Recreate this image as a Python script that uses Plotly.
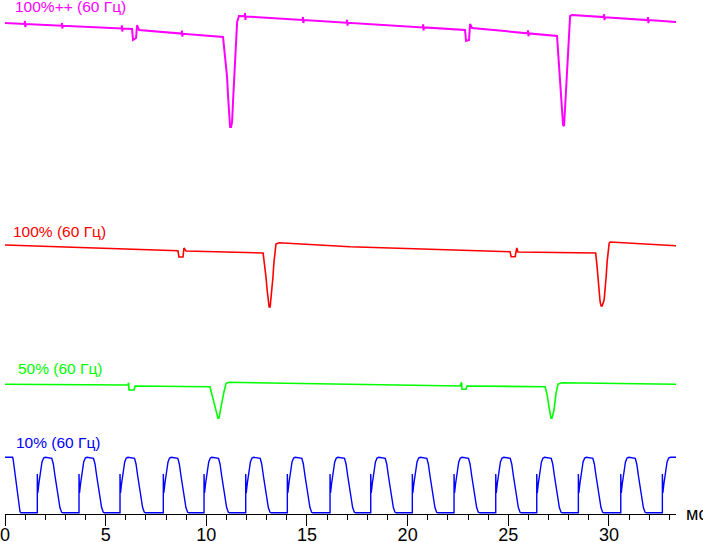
import plotly.graph_objects as go

# ---------------- data (time in ms, brightness in arbitrary units) ----------------
# 100%++ (60 Гц) – magenta (incl. the short noise bursts seen on the trace)
mag_t = [0.00,
         0.97, 0.99, 1.01, 1.03, 2.81, 2.83, 2.85, 2.87, 5.79, 5.81, 5.83, 5.85,
         6.31, 6.36, 6.51, 6.56, 6.66,
         8.77, 8.79, 8.81, 8.83,
         10.83, 10.93, 11.03, 11.08, 11.13, 11.18, 11.23, 11.28, 11.33, 11.38, 11.43,
         11.48, 11.53, 11.62,
         11.90, 11.92, 11.94, 11.96, 14.78, 14.80, 14.82, 14.84,
         16.97, 16.99, 17.01, 17.03, 20.75, 20.77, 20.79, 20.81,
         22.85, 22.90, 23.05, 23.10, 23.20,
         25.96, 25.98, 26.00, 26.02,
         27.42, 27.47, 27.52, 27.62, 27.67, 27.72, 27.77, 27.82, 27.87, 27.92, 28.02,
         28.07, 28.17,
         29.74, 29.76, 29.78, 29.80, 31.92, 31.94, 31.96, 31.98,
         33.33]
mag_v = [117,
         116.1, 119, 113, 116, 114.3, 117, 111.5, 114.3, 111.5, 114.5, 108.5, 111.4,
         111, 100, 102, 115, 110,
         106.4, 109.4, 103.4, 106.3,
         103, 83, 63, 44, 25, 13, 13, 18, 40, 60, 78,
         103, 118, 124,
         123.7, 127, 120, 123.5, 120.1, 123, 117, 120,
         117.3, 120.3, 114.3, 117.2, 112.6, 115.6, 109.6, 112.6,
         110, 99, 100, 116, 112,
         106.7, 109.7, 103.7, 106.6,
         104, 90, 70, 50, 30, 15, 14, 32, 55, 80, 105,
         124, 125,
         122.9, 125.8, 119.8, 122.8, 119.9, 122.9, 116.9, 119.9,
         118]

# 100% (60 Гц) – red
red_t = [0.00, 8.59, 8.64, 8.84, 8.89, 8.99, 12.82, 12.92, 12.97, 13.02, 13.07, 13.12, 13.17,
         13.21, 13.26, 13.31, 13.36, 13.41, 13.46, 13.61, 17.14, 25.09, 25.14, 25.34, 25.42,
         25.48, 29.34, 29.41, 29.46, 29.51, 29.56, 29.61, 29.66, 29.76, 29.81, 29.86, 29.91,
         29.96, 30.01, 30.06, 33.33]
red_v = [75, 69.3, 63, 63, 72, 69, 67, 53, 42, 30, 18, 13, 13,
         20, 30, 43, 58, 70, 76, 77.3, 73.3, 68.3, 63.3, 63.3, 72,
         68, 67, 53.3, 40, 28.3, 18.3, 14, 14, 20, 30, 43.3, 58.3,
         70, 76.7, 78, 74.3]

# 50% (60 Гц) – green
grn_t = [0.00, 6.11, 6.14, 6.16, 6.41, 6.46, 10.18, 10.28, 10.38, 10.48, 10.58, 10.63, 10.68,
         10.78, 10.88, 10.98, 11.13, 17.14, 22.60, 22.68, 22.70, 22.90, 22.95, 26.83, 26.93,
         27.02, 27.12, 27.17, 27.27, 27.37, 27.47, 27.67, 33.33]
grn_v = [45.7, 45, 47.3, 40, 40, 44, 43.3, 35, 27, 18.3, 11.7, 11.7, 18.3,
         28.3, 38.3, 46.7, 47.7, 45.7, 44, 47.7, 40.7, 40.7, 44, 43.3, 35,
         23.3, 11.7, 11.7, 20, 36.7, 46, 47.3, 45.7]

# 10% (60 Гц) – blue: start segment, PWM rising-edge times, and one pulse profile
blu_start_t = [0.00, 0.38, 0.41, 0.50, 0.58, 0.66, 0.745, 0.795]
blu_start_v = [56.7, 56.7, 54, 39, 24, 11, 2.3, 1.3]
blu_edges = [1.605, 3.676, 5.713, 7.864, 9.886, 11.957, 14.024, 16.145,
             18.167, 20.233, 22.305, 24.376, 26.413, 28.480, 30.586, 32.653]
pulse_dt = [0.0, 0.0, 0.025, 0.075, 0.164, 0.233, 0.313, 0.397, 0.72, 0.795,
            0.879, 0.959, 1.043, 1.123, 1.207, 1.267]
pulse_v = [1.3, 40, 21, 30, 44, 52, 56, 56.7, 55.7, 50,
           38, 26, 15, 6.5, 1.7, 1.3]
t_end = 33.33
blu_end_v = 56.7

labels = ["100%++ (60 Гц)", "100% (60 Гц)", "50% (60 Гц)", "10% (60 Гц)"]
colors = ["#FF00FF", "#FF0000", "#00FF00", "#0000FF"]
x_ticks = [0, 5, 10, 15, 20, 25, 30]
x_unit = "мс"

# ---------------- build blue series from read edges / profile ----------------
blu_t = list(blu_start_t)
blu_v = list(blu_start_v)
for e in blu_edges:
    for dt, v in zip(pulse_dt, pulse_v):
        if e + dt <= t_end:
            blu_t.append(e + dt)
            blu_v.append(v)
blu_t.append(t_end)
blu_v.append(blu_end_v)

# ---------------- figure ----------------
H = 514.0  # plot-area height in px
def dom(base_px, top_px):
    return [(H - base_px) / H, (H - top_px) / H]

fig = go.Figure()
series = [(mag_t, mag_v, "y4", 2.0), (red_t, red_v, "y3", 1.6),
          (grn_t, grn_v, "y2", 1.6), (blu_t, blu_v, "y", 1.4)]
for (t, v, ya, w), c, name in zip(series, colors, labels):
    fig.add_trace(go.Scatter(x=t, y=v, yaxis=ya, mode="lines", name=name,
                             line=dict(color=c, width=w), hoverinfo="skip",
                             cliponaxis=False))

ycommon = dict(visible=False, fixedrange=True, showgrid=False, zeroline=False,
               automargin=False)
fig.update_layout(
    width=703, height=542,
    margin=dict(l=5, r=27, t=0, b=28, autoexpand=False),
    paper_bgcolor="white", plot_bgcolor="white",
    showlegend=False,
    font=dict(family="Liberation Sans, Arial, sans-serif", color="black"),
    xaxis=dict(range=[0, t_end], showgrid=False, zeroline=False,
               showline=True, linecolor="black", linewidth=1,
               ticks="outside", ticklen=4, tickwidth=1, tickcolor="black",
               tickvals=x_ticks, ticktext=[str(v) for v in x_ticks],
               tickfont=dict(size=18, color="black"),
               ticklabeloverflow="allow",
               minor=dict(dtick=1, ticks="outside", ticklen=5, tickwidth=1,
                          tickcolor="black", showgrid=False),
               anchor="y", fixedrange=True, automargin=False),
    # long major tick marks (no labels) drawn by an overlaying axis
    xaxis2=dict(range=[0, t_end], overlaying="x", anchor="y", side="bottom",
                showgrid=False, zeroline=False, showline=False,
                ticks="outside", ticklen=11, tickwidth=1, tickcolor="black",
                tickvals=x_ticks, showticklabels=False,
                fixedrange=True, automargin=False),
    yaxis=dict(domain=dom(514, 444), range=[0, 70], anchor="x", **ycommon),
    yaxis2=dict(domain=dom(430, 360), range=[0, 70], anchor="x", **ycommon),
    yaxis3=dict(domain=dom(320, 220), range=[0, 100], anchor="x", **ycommon),
    yaxis4=dict(domain=dom(140, 10), range=[0, 130], anchor="x", **ycommon),
)
# invisible trace so the overlaying tick axis is drawn
fig.add_trace(go.Scatter(x=[0, t_end], y=[None, None], xaxis="x2", yaxis="y",
                         mode="lines", hoverinfo="skip", showlegend=False))

label_pos = [(0.40, 7), (0.30, 231.5), (0.55, 368), (0.45, 442.5)]
for (lx, ly), txt, c in zip(label_pos, labels, colors):
    fig.add_annotation(text=txt, x=lx, xref="x", y=(H - ly) / H, yref="paper",
                       xanchor="left", yanchor="middle", showarrow=False,
                       font=dict(size=15.5, color=c))

fig.add_annotation(text=x_unit, x=1.0, xref="paper", xshift=8, y=0, yref="paper",
                   xanchor="left", yanchor="middle", showarrow=False,
                   font=dict(size=18, color="black"))

fig.write_html("out.html", config={"displayModeBar": False},
               post_script="document.body.style.margin='0';document.body.style.padding='0';")
